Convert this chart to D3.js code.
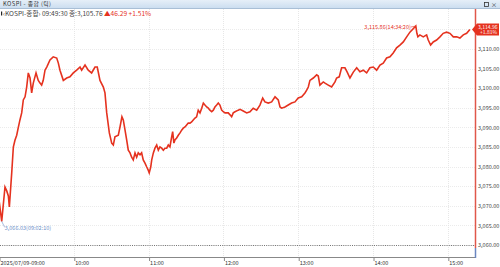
<!DOCTYPE html>
<html><head><meta charset="utf-8">
<script src="https://cdn.jsdelivr.net/npm/d3@7"></script>
<style>
html,body{margin:0;padding:0;background:#fff;}
svg{display:block;font-family:"Noto Sans CJK KR","DejaVu Sans",sans-serif;}
</style></head>
<body>
<svg id="c" width="500" height="267"></svg>
<script>
// ---- data (minutes after 09:00, index value) ----
const minutes = [0,2.17,4.8,6.2,7.5,8.3,10.2,11.5,12.8,14.2,15.5,16.8,18.2,19.5,20.9,22.2,23.5,24.9,26.2,27.5,29.7,31.5,32.9,34.2,35.5,36.9,38.3,40.9,43.5,46.3,47.6,48.9,51.6,54.3,56.9,59.6,62.3,65,66.3,69,71.6,74.3,77,78.8,81,83.7,85,86.4,88.5,90.4,91.7,93,95.7,97,98.6,99.7,101.1,102.4,103.7,105.1,106.4,107.7,109.1,110.4,111.7,113.1,114.4,115.7,117.1,118.5,119.7,120.5,121.7,122.5,123.8,125.1,126.5,127.8,129.1,130.5,131.8,133.1,134.5,135.8,137.1,138.5,139.3,140.3,141.1,142.5,143.8,145.2,146.5,147.8,149.2,150.5,151.8,153.2,154.5,155.8,157.2,158.5,159.8,161.2,162.6,163.9,165.2,166.6,167.9,169.2,170.6,171.9,173.2,174.6,175.9,177.2,178.6,179.9,181.3,182.6,183.9,185.3,186.6,187.9,189.3,191.9,193.3,195.9,198.7,201.3,203.9,206.7,209.3,211.5,213.3,216,218.7,221.4,224,225.4,226.7,229.4,232,234.7,237.4,240,242.8,245.4,246.8,248.1,249.4,252.1,254.8,256.1,257.4,260.1,261.5,264.1,266.8,269.5,270.8,272.9,274.8,277.5,279.3,281.5,284.2,286.9,289.5,292.2,294.9,297.5,300.2,302.9,305.6,308.2,310.9,313.6,316.2,318.9,321.6,324.3,327,329.6,334.33,335.2,336,337.6,340.3,343,344.3,346.2,348.3,351,353.7,356.3,359,361.7,364.4,367.1,369.7,372.4,375.1,377.7];
const values = [3071.5,3066.03,3074.8,3073.8,3072.5,3069.7,3078.4,3085,3086.7,3088,3090,3091.9,3093.7,3097,3097.8,3100.3,3103.9,3102.6,3098.8,3101.3,3103.9,3102,3101.3,3100.8,3102,3104.6,3105.4,3107.2,3108,3107.7,3106.4,3104.6,3102,3102.6,3102.9,3103.9,3104.6,3105.4,3104.6,3105.9,3104.6,3103.9,3105.4,3105.4,3102,3100.3,3098.8,3093.7,3088.6,3086,3085.5,3087.6,3088,3090,3092.7,3091.9,3089.3,3086.8,3084.2,3083.5,3082.4,3081.7,3083.5,3082.4,3083.5,3083,3083.5,3081.7,3080.9,3079.9,3079.1,3078.4,3079.9,3081.7,3083.5,3084.7,3085.5,3084.2,3085,3084.7,3084.2,3084.7,3084.7,3085.5,3085,3087.6,3088.9,3086,3086.8,3087.3,3088,3088.6,3089.3,3089.8,3090.1,3090.6,3091.1,3091.1,3091.4,3091.9,3092.4,3092.7,3094.4,3093.7,3094.9,3096.2,3095.7,3095.2,3094.9,3094.4,3094,3094.4,3095.2,3095.7,3096.2,3095.7,3094.4,3094,3093.7,3093.7,3093.7,3093.2,3092.7,3093.7,3094,3094.4,3094.6,3094.2,3093.7,3094,3094.9,3094.4,3095.7,3097.5,3096.5,3096.2,3096.5,3097.8,3097,3095.2,3094.9,3095.2,3095.7,3096.2,3096.5,3097.5,3097.8,3098.8,3099.5,3100.3,3102,3102.6,3103.4,3103.1,3100.8,3101.6,3101.3,3100.8,3100.3,3101.6,3102.6,3102.9,3105.2,3105.2,3104.1,3102.6,3104.1,3105.2,3104.2,3104.6,3103.9,3105.2,3105.4,3104.6,3105.9,3106.4,3107.7,3108,3109,3110.3,3111,3111.8,3113.1,3114.3,3115.86,3114,3113.1,3113.6,3113.1,3113.6,3112.3,3111,3111.8,3112.3,3113.1,3114,3114.3,3114,3113.1,3113.1,3112.8,3113.6,3114,3114.96];
const yTicks = [3060,3065,3070,3075,3080,3085,3090,3095,3100,3105,3110];
const gridValues = [3060,3065,3070,3075,3080,3085,3090,3095,3100,3105,3110,3115];
const hourTicks = ["09:00","10:00","11:00","12:00","13:00","14:00","15:00"];
const dateLabel = "2025/07/09";
const prevClose = 3059.47;
const titleText = "KOSPI - 종합 (틱)";
const infoName = "‹KOSPI-종합› 09:49:30 종:3,105.76";
const infoChange = "▲46.29 +1.51%";
const highLabel = "3,115.86(14:34:20)";
const lowLabel = "3,066.03(09:02:10)";
const lastLabel = ["3,114.96", "+1.81%"];

// ---- scales ----
const base = new Date(2025, 6, 9, 9, 0, 0);
const t = m => new Date(base.getTime() + m * 60000);
const data = minutes.map((m, i) => ({ t: t(m), v: values[i] }));
const parseHM = s => { const [h, mm] = s.split(":").map(Number); return new Date(2025, 6, 9, h, mm, 0); };

const plotRight = 475, plotTop = 9, plotBottom = 257;
const x = d3.scaleTime().domain([base, t(381)]).range([-1, 474]);
const y = d3.scaleLinear().domain([3060, 3110]).range([245, 49]);

const svg = d3.select("#c");
const red = "#e5321f", blue = "#6b8fc9";

// title bar
const grad = svg.append("defs").append("linearGradient").attr("id", "tb").attr("x1", 0).attr("y1", 0).attr("x2", 0).attr("y2", 1);
grad.append("stop").attr("offset", 0).attr("stop-color", "#e6eff8");
grad.append("stop").attr("offset", 1).attr("stop-color", "#c9dcef");
svg.append("rect").attr("x", 0).attr("y", 0).attr("width", 500).attr("height", 9).attr("fill", "url(#tb)");
svg.append("line").attr("x1", 0).attr("x2", 500).attr("y1", 8.5).attr("y2", 8.5).attr("stroke", "#a9bfd6");
svg.append("text").attr("x", 3).attr("y", 6.2).attr("font-size", 5.8).attr("fill", "#333")
  .attr("textLength", 48).attr("lengthAdjust", "spacing").text(titleText);
svg.append("rect").attr("x", 484.5).attr("y", 2.5).attr("width", 4).attr("height", 4).attr("fill", "none").attr("stroke", "#333").attr("stroke-width", 0.8);
svg.append("text").attr("x", 491).attr("y", 7).attr("font-size", 6).attr("fill", "#333").text("×");

// grid
const g = svg.append("g");
g.selectAll(".vg").data(hourTicks.slice(1)).join("line")
  .attr("x1", d => Math.round(x(parseHM(d))) + 0.5).attr("x2", d => Math.round(x(parseHM(d))) + 0.5)
  .attr("y1", plotTop).attr("y2", plotBottom)
  .attr("stroke", "#dcdcdc").attr("stroke-width", 0.7).attr("stroke-dasharray", "1,1");
g.selectAll(".hg").data(gridValues).join("line")
  .attr("x1", 0).attr("x2", plotRight)
  .attr("y1", d => Math.round(y(d)) + 0.5).attr("y2", d => Math.round(y(d)) + 0.5)
  .attr("stroke", "#e2e2e2").attr("stroke-width", 0.7).attr("stroke-dasharray", "1,1");

// prev close dotted
svg.append("line").attr("x1", 0).attr("x2", plotRight)
  .attr("y1", Math.round(y(prevClose)) - 1.5).attr("y2", Math.round(y(prevClose)) - 1.5)
  .attr("stroke", "#555").attr("stroke-width", 0.8).attr("stroke-dasharray", "1,1.2");

// bottom axis
const xAxis = d3.axisBottom(x)
  .tickValues(hourTicks.map(parseHM))
  .tickSize(3)
  .tickFormat((d, i) => i === 0 ? dateLabel + "-" + hourTicks[0] : d3.timeFormat("%H:%M")(d));
const xa = svg.append("g").attr("transform", `translate(0,${plotBottom})`).call(xAxis);
xa.select(".domain").attr("d", `M0,0.5H${plotRight}`).attr("stroke", "#888");
xa.selectAll(".tick line").attr("stroke", "#888").attr("y2", 4).attr("transform", "translate(0.5,0)");
xa.selectAll(".tick text").attr("text-anchor", "start").attr("dx", 1).attr("y", 4.5).attr("dy", "0.71em")
  .attr("font-size", 5.5).attr("fill", "#333").attr("font-family", "'Noto Sans CJK KR',sans-serif");

// right axis
const yAxis = d3.axisRight(y).tickValues(yTicks).tickSize(0).tickPadding(3).tickFormat(d3.format(",.2f"));
const ya = svg.append("g").attr("transform", `translate(${plotRight},0)`).call(yAxis);
ya.select(".domain").remove();
ya.selectAll(".tick text").attr("font-size", 5.5).attr("fill", "#444").attr("font-family", "'Noto Sans CJK KR',sans-serif");
const yc = Math.round(y(prevClose)) + 1;
svg.append("line").attr("x1", plotRight + 0.5).attr("x2", plotRight + 0.5).attr("y1", plotTop).attr("y2", yc).attr("stroke", "#e0574a").attr("stroke-width", 1.5);
svg.append("line").attr("x1", plotRight + 0.5).attr("x2", plotRight + 0.5).attr("y1", yc).attr("y2", plotBottom + 1).attr("stroke", "#6a86c0").attr("stroke-width", 1.5);

// line
svg.append("path").datum(data)
  .attr("fill", "none").attr("stroke", red).attr("stroke-width", 1.6).attr("stroke-linejoin", "miter")
  .attr("d", d3.line().x(d => x(d.t)).y(d => y(d.v)));

// high label
const hi = data[d3.maxIndex(data, d => d.v)];
svg.append("line").attr("x1", x(hi.t) - 5).attr("x2", x(hi.t)).attr("y1", y(hi.v) + 1).attr("y2", y(hi.v)).attr("stroke", red).attr("stroke-width", 0.6);
svg.append("text").attr("x", x(hi.t) - 5).attr("y", y(hi.v) + 3).attr("text-anchor", "end")
  .attr("font-size", 5.5).attr("fill", red).text(highLabel);
// low label
const lo = data[d3.minIndex(data, d => d.v)];
svg.append("line").attr("x1", x(lo.t)).attr("x2", x(lo.t) + 3).attr("y1", y(lo.v)).attr("y2", y(lo.v) + 6).attr("stroke", blue).attr("stroke-width", 0.6);
svg.append("text").attr("x", x(lo.t) + 3).attr("y", y(lo.v) + 8.5)
  .attr("font-size", 5.5).attr("fill", blue).text(lowLabel);

// last value box
const last = data[data.length - 1];
const ly = y(last.v);
svg.append("path")
  .attr("d", `M${plotRight - 3},${ly} L${plotRight + 2},${ly - 6} H${499} V${ly + 6} H${plotRight + 2} Z`)
  .attr("fill", "#e5321f");
svg.append("text").attr("x", plotRight + 3).attr("y", ly - 1).attr("font-size", 5).attr("fill", "#fff").text(lastLabel[0]);
svg.append("text").attr("x", plotRight + 5).attr("y", ly + 4.5).attr("font-size", 5).attr("fill", "#fff").text(lastLabel[1]);

// info line
svg.append("rect").attr("x", 1).attr("y", 11.5).attr("width", 1.2).attr("height", 4).attr("fill", "#222");
const info = svg.append("text").attr("x", 3).attr("y", 16).attr("font-size", 6.6).attr("fill", "#444");
info.append("tspan").text(infoName + " ");
info.append("tspan").attr("fill", red).text(infoChange);
</script>
</body></html>
